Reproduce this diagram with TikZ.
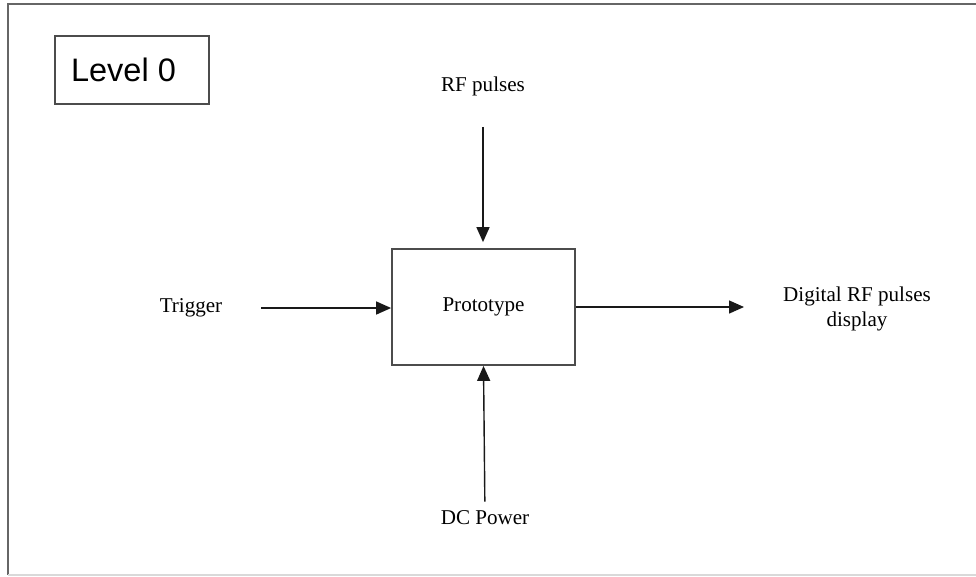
\documentclass[tikz,border=0pt]{standalone}
\usepackage{fontspec}
\setmainfont{Liberation Serif}
\newfontfamily\levelfont{Liberation Sans}
\usetikzlibrary{arrows.meta}

\begin{document}
\begin{tikzpicture}[x=0.02cm, y=-0.02cm,
  lbl/.style={font=\fontsize{12}{14}\selectfont, align=center},
  flow/.style={-{Triangle[length=0.3cm,width=0.26cm]}, line width=0.8pt, black!90},
  boxline/.style={draw=black!70, line width=1pt}]
\useasboundingbox (0,0) rectangle (976,576);

% frame
\draw[black!60, line width=1.2pt] (8,575) -- (8,4) -- (976,4);
\draw[black!15, line width=1pt] (8,575) -- (976,575);

\node[boxline, minimum width=154*0.02cm, minimum height=68*0.02cm,
      font=\levelfont\fontsize{18.5}{20}\selectfont] (lvl) at (132,70) {Level 0\hspace*{0.34cm}};

\node[boxline, minimum width=183*0.02cm, minimum height=116*0.02cm, lbl] (proto) at (483.5,307) {Prototype};

\node[lbl] (rf) at (483,86) {RF pulses};
\node[lbl] (trig) at (191,308) {Trigger};
\node[lbl] (dc) at (485,518) {DC Power};
\node[lbl] (out) at (857,309) {Digital RF pulses\\display};

\draw[flow, shorten <=0.5cm, shorten >=0.12cm] (rf) -- (rf |- proto.north);
\draw[flow, shorten <=0.66cm] (trig) -- (proto.west |- trig);
\draw[flow, shorten <=0.06cm] (dc) -- (proto.south);
\draw[flow, shorten >=0.66cm] (proto.east) -- (out.west |- proto.east);

\end{tikzpicture}
\end{document}
